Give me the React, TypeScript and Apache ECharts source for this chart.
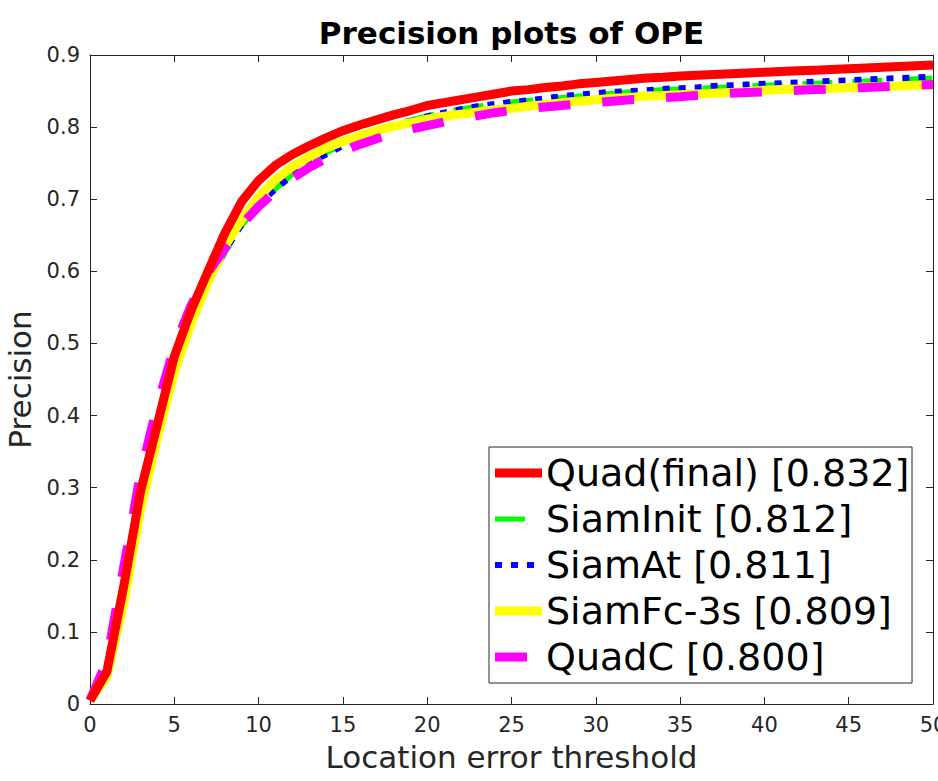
import React, { useEffect, useRef } from 'react';
import * as echarts from 'echarts';

const thresholds = [0, 1, 2, 3, 4, 5, 6, 7, 8, 9, 10, 11, 12, 13, 14, 15, 16, 17, 18, 19, 20, 21, 22, 23, 24, 25, 26, 27, 28, 29, 30, 31, 32, 33, 34, 35, 36, 37, 38, 39, 40, 41, 42, 43, 44, 45, 46, 47, 48, 49, 50];

const quadFinal = [0.005, 0.045, 0.163, 0.295, 0.388, 0.482, 0.546, 0.600, 0.653, 0.697, 0.726, 0.747, 0.762, 0.774, 0.785, 0.795, 0.803, 0.810, 0.817, 0.823, 0.830, 0.834, 0.838, 0.842, 0.846, 0.850, 0.852, 0.855, 0.857, 0.860, 0.862, 0.864, 0.866, 0.868, 0.869, 0.871, 0.872, 0.873, 0.874, 0.875, 0.876, 0.877, 0.878, 0.879, 0.880, 0.881, 0.882, 0.883, 0.884, 0.885, 0.886];
const siamInit = [0.005, 0.040, 0.140, 0.270, 0.370, 0.460, 0.525, 0.583, 0.625, 0.663, 0.692, 0.714, 0.734, 0.751, 0.764, 0.776, 0.786, 0.795, 0.803, 0.810, 0.816, 0.821, 0.825, 0.829, 0.832, 0.835, 0.837, 0.839, 0.841, 0.843, 0.845, 0.847, 0.849, 0.850, 0.852, 0.853, 0.854, 0.855, 0.856, 0.857, 0.858, 0.859, 0.860, 0.861, 0.862, 0.863, 0.864, 0.865, 0.866, 0.867, 0.868];
const siamAt = [0.005, 0.042, 0.145, 0.272, 0.372, 0.462, 0.527, 0.585, 0.628, 0.665, 0.693, 0.714, 0.733, 0.750, 0.762, 0.774, 0.784, 0.793, 0.801, 0.808, 0.815, 0.820, 0.825, 0.829, 0.832, 0.835, 0.837, 0.840, 0.843, 0.845, 0.847, 0.849, 0.850, 0.851, 0.853, 0.854, 0.855, 0.857, 0.858, 0.859, 0.860, 0.861, 0.862, 0.863, 0.864, 0.865, 0.866, 0.867, 0.868, 0.869, 0.870];
const siamFc3s = [0.005, 0.038, 0.140, 0.270, 0.370, 0.460, 0.528, 0.585, 0.635, 0.672, 0.703, 0.727, 0.745, 0.759, 0.771, 0.780, 0.788, 0.795, 0.801, 0.806, 0.811, 0.815, 0.818, 0.821, 0.824, 0.826, 0.829, 0.831, 0.834, 0.836, 0.838, 0.840, 0.841, 0.843, 0.844, 0.845, 0.846, 0.847, 0.848, 0.849, 0.851, 0.852, 0.853, 0.853, 0.854, 0.855, 0.856, 0.856, 0.857, 0.858, 0.858];
const quadC = [0.005, 0.060, 0.190, 0.320, 0.415, 0.495, 0.553, 0.598, 0.632, 0.665, 0.690, 0.711, 0.729, 0.744, 0.756, 0.767, 0.776, 0.784, 0.791, 0.797, 0.802, 0.807, 0.812, 0.816, 0.820, 0.823, 0.826, 0.828, 0.830, 0.832, 0.834, 0.836, 0.838, 0.839, 0.841, 0.842, 0.844, 0.845, 0.847, 0.848, 0.849, 0.850, 0.851, 0.852, 0.853, 0.854, 0.855, 0.856, 0.857, 0.858, 0.859];

const legendLabels = ['Quad(final) [0.832]', 'SiamInit [0.812]', 'SiamAt [0.811]', 'SiamFc-3s [0.809]', 'QuadC [0.800]'];

const FONT = '"DejaVu Sans", "Liberation Sans", sans-serif';
const AXIS_COLOR = '#262626';

type Style = { color: string; width: number; dash: number[] | 'solid' };
const styles: Style[] = [
  { color: '#ff0000', width: 9, dash: 'solid' },
  { color: '#00ff00', width: 5, dash: [30, 20] },
  { color: '#0000ff', width: 6, dash: [7, 9] },
  { color: '#ffff00', width: 9, dash: 'solid' },
  { color: '#ff00ff', width: 9, dash: [32, 32] },
];
const seriesData = [quadFinal, siamInit, siamAt, siamFc3s, quadC];
// drawing order (bottom to top)
const drawOrder = [1, 2, 3, 4, 0];

export default function App() {
  const ref = useRef<HTMLDivElement>(null);
  useEffect(() => {
    document.body.style.margin = '0';
    if (!ref.current) return;
    const chart = echarts.init(ref.current, undefined, { renderer: 'svg' });

    const baseAxis = {
      type: 'value' as const,
      axisLine: { show: true, onZero: false, lineStyle: { color: AXIS_COLOR, width: 1 } },
      axisTick: { show: true, inside: true, length: 7, lineStyle: { color: AXIS_COLOR, width: 1 } },
      splitLine: { show: false },
    };

    const series = drawOrder.map((i) => ({
      type: 'line' as const,
      name: legendLabels[i],
      data: thresholds.map((t, k) => [t, seriesData[i][k]]),
      showSymbol: false,
      symbol: 'none',
      smooth: false,
      xAxisIndex: 0,
      yAxisIndex: 0,
      lineStyle: { color: styles[i].color, width: styles[i].width, type: styles[i].dash, cap: 'butt' },
      z: 2,
    }));

    const legendX = 489, legendY = 447, legendW = 423, legendH = 236;
    const rowY = [473, 519, 565, 611, 657];
    const legendEls: any[] = [
      {
        type: 'rect',
        shape: { x: legendX, y: legendY, width: legendW, height: legendH },
        style: { fill: '#ffffff', stroke: AXIS_COLOR, lineWidth: 1 },
        z: 10,
      },
    ];
    legendLabels.forEach((lab, i) => {
      legendEls.push({
        type: 'line',
        shape: { x1: 495, y1: rowY[i], x2: 542, y2: rowY[i] },
        style: {
          stroke: styles[i].color,
          lineWidth: styles[i].width,
          lineDash: styles[i].dash === 'solid' ? null : styles[i].dash,
        },
        z: 11,
      });
      legendEls.push({
        type: 'text',
        x: 546,
        y: rowY[i],
        style: {
          text: lab,
          fill: '#000000',
          fontSize: 38,
          fontFamily: FONT,
          align: 'left',
          verticalAlign: 'middle',
        },
        z: 11,
      });
    });

    chart.setOption({
      animation: false,
      backgroundColor: '#ffffff',
      grid: { left: 90, right: 5, top: 55, bottom: 77, containLabel: false, outerBoundsMode: 'none' },
      xAxis: [
        {
          ...baseAxis,
          position: 'bottom',
          min: 0,
          max: 50,
          interval: 5,
          name: 'Location error threshold',
          nameLocation: 'middle',
          nameGap: 37,
          nameTextStyle: { fontSize: 31, fontFamily: FONT, color: AXIS_COLOR },
          axisLabel: { show: true, margin: 10, fontSize: 21, fontFamily: FONT, color: AXIS_COLOR },
        },
        {
          ...baseAxis,
          position: 'top',
          min: 0,
          max: 50,
          interval: 5,
          axisLabel: { show: false },
        },
      ],
      yAxis: [
        {
          ...baseAxis,
          position: 'left',
          min: 0,
          max: 0.9,
          interval: 0.1,
          name: 'Precision',
          nameLocation: 'middle',
          nameGap: 49,
          nameTextStyle: { fontSize: 31, fontFamily: FONT, color: AXIS_COLOR },
          axisLabel: {
            show: true,
            margin: 10,
            fontSize: 21,
            fontFamily: FONT,
            color: AXIS_COLOR,
            formatter: (v: number) => (v === 0 ? '0' : v.toFixed(1)),
          },
        },
        {
          ...baseAxis,
          position: 'right',
          min: 0,
          max: 0.9,
          interval: 0.1,
          axisLabel: { show: false },
        },
      ],
      series,
      graphic: [
        {
          type: 'text',
          x: 511.5,
          y: 33,
          style: {
            text: 'Precision plots of OPE',
            fill: '#000000',
            fontSize: 31,
            fontWeight: 'bold',
            fontFamily: FONT,
            align: 'center',
            verticalAlign: 'middle',
          },
          z: 11,
        },
        ...legendEls,
      ],
    });
    return () => chart.dispose();
  }, []);
  return <div ref={ref} style={{ width: 938, height: 781 }} />;
}
